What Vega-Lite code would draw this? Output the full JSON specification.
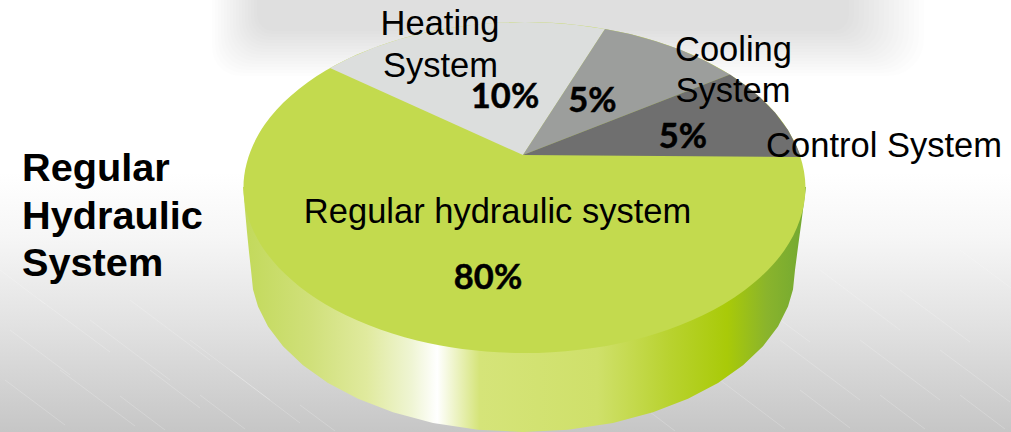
{
  "$schema": "https://vega.github.io/schema/vega-lite/v6.json",
  "width": 1011,
  "height": 432,
  "padding": 0,
  "autosize": "none",
  "background": "#ffffff",
  "config": {"view": {"stroke": null}},
  "encoding": {
    "x": {"field": "x", "type": "quantitative", "axis": null, "scale": {"domain": [0, 1011], "nice": false, "zero": false}},
    "y": {"field": "y", "type": "quantitative", "axis": null, "scale": {"domain": [0, 432], "reverse": true, "nice": false, "zero": false}}
  },
  "layer": [
    {
      "description": "Brushed-metal backdrop",
      "data": {"values": [{"x": 0, "x2": 1011, "y": 0, "y2": 432}]},
      "mark": {"type": "rect", "fill": {"gradient": "linear", "x1": 0, "y1": 0, "x2": 0, "y2": 1, "stops": [
        {"offset": 0, "color": "#ffffff"},
        {"offset": 0.4, "color": "#ffffff"},
        {"offset": 0.55, "color": "#f6f6f6"},
        {"offset": 0.75, "color": "#e2e2e2"},
        {"offset": 1, "color": "#c6c6c6"}
      ]}},
      "encoding": {"x2": {"field": "x2"}, "y2": {"field": "y2"}}
    },
    {
      "description": "Fine diagonal brush strokes",
      "data": {"values": [
        {"x": 10, "y": 330, "x2": 70, "y2": 375},
        {"x": 40, "y": 300, "x2": 110, "y2": 352},
        {"x": 90, "y": 320, "x2": 170, "y2": 380},
        {"x": 5, "y": 380, "x2": 65, "y2": 425},
        {"x": 60, "y": 370, "x2": 135, "y2": 426},
        {"x": 130, "y": 300, "x2": 210, "y2": 360},
        {"x": 150, "y": 370, "x2": 200, "y2": 408},
        {"x": 190, "y": 340, "x2": 270, "y2": 400},
        {"x": 120, "y": 396, "x2": 165, "y2": 430},
        {"x": 230, "y": 370, "x2": 300, "y2": 423},
        {"x": 200, "y": 395, "x2": 245, "y2": 429},
        {"x": 300, "y": 405, "x2": 335, "y2": 431},
        {"x": 740, "y": 290, "x2": 810, "y2": 342},
        {"x": 820, "y": 270, "x2": 900, "y2": 330},
        {"x": 900, "y": 290, "x2": 970, "y2": 342},
        {"x": 780, "y": 340, "x2": 860, "y2": 400},
        {"x": 860, "y": 340, "x2": 940, "y2": 400},
        {"x": 940, "y": 350, "x2": 1010, "y2": 402},
        {"x": 720, "y": 380, "x2": 785, "y2": 429},
        {"x": 800, "y": 390, "x2": 850, "y2": 428},
        {"x": 880, "y": 395, "x2": 925, "y2": 429},
        {"x": 960, "y": 395, "x2": 1005, "y2": 429},
        {"x": 650, "y": 412, "x2": 675, "y2": 431},
        {"x": 0, "y": 270, "x2": 45, "y2": 304},
        {"x": 960, "y": 250, "x2": 1011, "y2": 288}
      ]},
      "mark": {"type": "rule", "stroke": "#ffffff", "strokeWidth": 1, "opacity": 0.2},
      "encoding": {"x2": {"field": "x2"}, "y2": {"field": "y2"}}
    },
    {
      "description": "Soft shadow along the top edge, built from nested translucent bands",
      "data": {"values": [
        {"x": 212, "x2": 924, "y": 0, "y2": 76},
        {"x": 215, "x2": 919, "y": 0, "y2": 73},
        {"x": 218, "x2": 914, "y": 0, "y2": 70},
        {"x": 221, "x2": 909, "y": 0, "y2": 67},
        {"x": 224, "x2": 904, "y": 0, "y2": 64},
        {"x": 227, "x2": 899, "y": 0, "y2": 61},
        {"x": 230, "x2": 894, "y": 0, "y2": 58},
        {"x": 233, "x2": 889, "y": 0, "y2": 55},
        {"x": 236, "x2": 884, "y": 0, "y2": 52},
        {"x": 239, "x2": 879, "y": 0, "y2": 49},
        {"x": 242, "x2": 874, "y": 0, "y2": 46},
        {"x": 245, "x2": 869, "y": 0, "y2": 43},
        {"x": 248, "x2": 864, "y": 0, "y2": 40},
        {"x": 251, "x2": 859, "y": 0, "y2": 37},
        {"x": 254, "x2": 854, "y": 0, "y2": 34},
        {"x": 257, "x2": 849, "y": 0, "y2": 31}
      ]},
      "mark": {"type": "bar", "fill": "#000000", "opacity": 0.0095, "cornerRadiusBottomLeft": 28, "cornerRadiusBottomRight": 36},
      "encoding": {"x2": {"field": "x2"}, "y2": {"field": "y2"}}
    },
    {
      "description": "Cylinder wall of the pie",
      "data": {"values": [
        {"x": 243, "y": 187, "y2": 187},
        {"x": 245, "y": 187, "y2": 210},
        {"x": 247, "y": 187, "y2": 232},
        {"x": 249, "y": 187, "y2": 252},
        {"x": 251, "y": 187, "y2": 270},
        {"x": 253, "y": 187, "y2": 289.6},
        {"x": 258, "y": 187, "y2": 306.5},
        {"x": 268, "y": 187, "y2": 326.4},
        {"x": 283, "y": 187, "y2": 346.3},
        {"x": 303, "y": 187, "y2": 365.3},
        {"x": 328, "y": 187, "y2": 382.9},
        {"x": 358, "y": 187, "y2": 398.8},
        {"x": 393, "y": 187, "y2": 412.3},
        {"x": 433, "y": 187, "y2": 422.9},
        {"x": 478, "y": 187, "y2": 429.8},
        {"x": 523, "y": 187, "y2": 432},
        {"x": 568, "y": 187, "y2": 429.8},
        {"x": 613, "y": 187, "y2": 422.9},
        {"x": 653, "y": 187, "y2": 412.3},
        {"x": 688, "y": 187, "y2": 398.8},
        {"x": 718, "y": 187, "y2": 382.9},
        {"x": 743, "y": 187, "y2": 365.3},
        {"x": 763, "y": 187, "y2": 346.3},
        {"x": 778, "y": 187, "y2": 326.4},
        {"x": 788, "y": 187, "y2": 306.5},
        {"x": 793, "y": 187, "y2": 289.6},
        {"x": 795, "y": 187, "y2": 270},
        {"x": 798, "y": 187, "y2": 247},
        {"x": 801, "y": 187, "y2": 225},
        {"x": 804, "y": 187, "y2": 202},
        {"x": 806, "y": 187, "y2": 187}
      ]},
      "mark": {"type": "area", "fill": {"gradient": "linear", "x1": 0, "y1": 0, "x2": 1, "y2": 0, "stops": [
        {"offset": 0, "color": "#c2d95a"},
        {"offset": 0.12, "color": "#d0e07a"},
        {"offset": 0.22, "color": "#e0ea9e"},
        {"offset": 0.3, "color": "#eff5d4"},
        {"offset": 0.345, "color": "#ffffff"},
        {"offset": 0.42, "color": "#d5e479"},
        {"offset": 0.63, "color": "#cfe06a"},
        {"offset": 0.76, "color": "#b8d22e"},
        {"offset": 0.86, "color": "#a9ca08"},
        {"offset": 0.93, "color": "#8ab42c"},
        {"offset": 1, "color": "#72a832"}
      ]}},
      "encoding": {"y2": {"field": "y2"}}
    },
    {
      "description": "Top face: regular hydraulic system, 80 percent",
      "data": {"values": [
        {"i": 1, "x": 805.5, "y": 187.5},
        {"i": 2, "x": 784.1, "y": 250.8},
        {"i": 3, "x": 723.2, "y": 304.5},
        {"i": 4, "x": 632, "y": 340.4},
        {"i": 5, "x": 524.5, "y": 353},
        {"i": 6, "x": 417, "y": 340.4},
        {"i": 7, "x": 325.8, "y": 304.5},
        {"i": 8, "x": 264.9, "y": 250.8},
        {"i": 9, "x": 243.5, "y": 187.5},
        {"i": 10, "x": 264.9, "y": 124.2},
        {"i": 11, "x": 325.8, "y": 70.5},
        {"i": 12, "x": 417, "y": 34.6},
        {"i": 13, "x": 524.5, "y": 22},
        {"i": 14, "x": 632, "y": 34.6},
        {"i": 15, "x": 723.2, "y": 70.5},
        {"i": 16, "x": 784.1, "y": 124.2}
      ]},
      "mark": {"type": "line", "fill": "#c3da4e", "strokeWidth": 0, "interpolate": "cardinal-closed"},
      "encoding": {"order": {"field": "i"}}
    },
    {
      "description": "The three smaller wedges on the top face",
      "data": {"values": [
        {"slice": "Heating System", "i": 1, "x": 523, "y": 155},
        {"slice": "Heating System", "i": 2, "x": 330, "y": 68},
        {"slice": "Heating System", "i": 3, "x": 350, "y": 57.8},
        {"slice": "Heating System", "i": 4, "x": 375, "y": 47.3},
        {"slice": "Heating System", "i": 5, "x": 400, "y": 39.1},
        {"slice": "Heating System", "i": 6, "x": 425, "y": 32.7},
        {"slice": "Heating System", "i": 7, "x": 450, "y": 27.9},
        {"slice": "Heating System", "i": 8, "x": 475, "y": 24.6},
        {"slice": "Heating System", "i": 9, "x": 500, "y": 22.6},
        {"slice": "Heating System", "i": 10, "x": 525, "y": 22},
        {"slice": "Heating System", "i": 11, "x": 550, "y": 22.7},
        {"slice": "Heating System", "i": 12, "x": 575, "y": 24.7},
        {"slice": "Heating System", "i": 13, "x": 605, "y": 28.9},
        {"slice": "Cooling System", "i": 1, "x": 523, "y": 155},
        {"slice": "Cooling System", "i": 2, "x": 605, "y": 28.9},
        {"slice": "Cooling System", "i": 3, "x": 630, "y": 34.1},
        {"slice": "Cooling System", "i": 4, "x": 655, "y": 40.9},
        {"slice": "Cooling System", "i": 5, "x": 680, "y": 49.6},
        {"slice": "Cooling System", "i": 6, "x": 705, "y": 60.7},
        {"slice": "Cooling System", "i": 7, "x": 730, "y": 74.6},
        {"slice": "Control System", "i": 1, "x": 523, "y": 155},
        {"slice": "Control System", "i": 2, "x": 730, "y": 74.6},
        {"slice": "Control System", "i": 3, "x": 745, "y": 84.9},
        {"slice": "Control System", "i": 4, "x": 760, "y": 97.2},
        {"slice": "Control System", "i": 5, "x": 775, "y": 112.5},
        {"slice": "Control System", "i": 6, "x": 788, "y": 130.1},
        {"slice": "Control System", "i": 7, "x": 797, "y": 147.1},
        {"slice": "Control System", "i": 8, "x": 801, "y": 157}
      ]},
      "mark": {"type": "line", "strokeWidth": 0, "fill": "#000000"},
      "encoding": {
        "order": {"field": "i"},
        "detail": {"field": "slice"},
        "fill": {"field": "slice", "type": "nominal", "legend": null, "scale": {
          "domain": ["Heating System", "Cooling System", "Control System"],
          "range": ["#dcdedd", "#9c9e9c", "#6f6f6f"]
        }}
      }
    },
    {
      "description": "Slice names",
      "data": {"values": [
        {"label": "Heating", "x": 440, "y": 35},
        {"label": "System", "x": 440.5, "y": 77},
        {"label": "Cooling", "x": 733.5, "y": 61},
        {"label": "System", "x": 733, "y": 102},
        {"label": "Control System", "x": 884, "y": 157},
        {"label": "Regular hydraulic system", "x": 497.5, "y": 223}
      ]},
      "mark": {"type": "text", "font": "Liberation Sans", "fontSize": 34.5, "align": "center", "baseline": "alphabetic", "color": "#000000"},
      "encoding": {"text": {"field": "label"}}
    },
    {
      "description": "Share of each slice",
      "data": {"values": [
        {"slice": "Regular hydraulic system", "share": 0.8, "x": 488, "y": 289},
        {"slice": "Heating System", "share": 0.1, "x": 505, "y": 108},
        {"slice": "Cooling System", "share": 0.05, "x": 592.5, "y": 112},
        {"slice": "Control System", "share": 0.05, "x": 683, "y": 148}
      ]},
      "mark": {"type": "text", "font": "Lato", "fontWeight": "bold", "fontSize": 34.5, "align": "center", "baseline": "alphabetic", "color": "#000000", "stroke": "#000000", "strokeWidth": 0.5},
      "encoding": {"text": {"field": "share", "type": "quantitative", "format": ".0%"}}
    },
    {
      "description": "Chart heading, one row per line",
      "data": {"values": [
        {"line": "Regular", "x": 22, "y": 181},
        {"line": "Hydraulic", "x": 22, "y": 229},
        {"line": "System", "x": 22, "y": 276}
      ]},
      "mark": {"type": "text", "font": "Liberation Sans", "fontWeight": "bold", "fontSize": 39.7, "align": "left", "baseline": "alphabetic", "color": "#000000"},
      "encoding": {"text": {"field": "line"}}
    }
  ]
}
